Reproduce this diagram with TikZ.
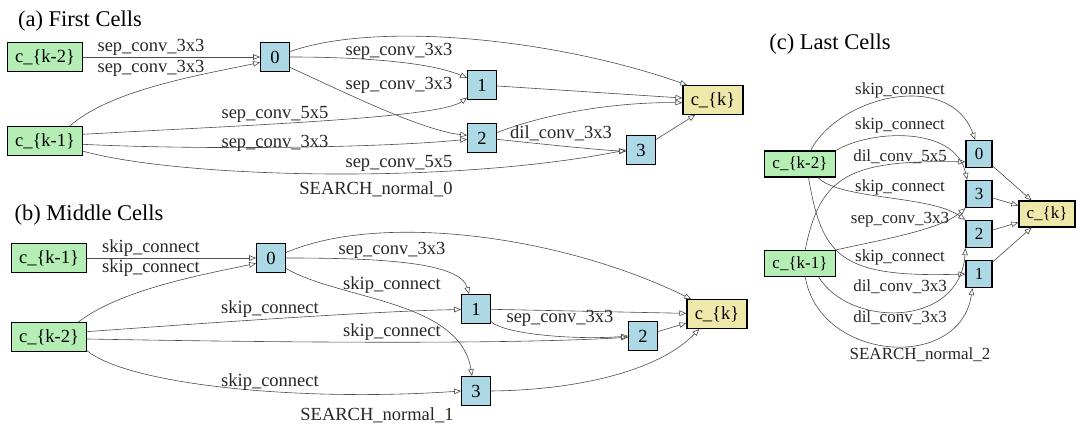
\documentclass[tikz,border=0pt]{standalone}
\usepackage{fontspec}
\setmainfont{Liberation Serif}
\usetikzlibrary{arrows.meta}
\definecolor{seagreen}{HTML}{B4EEB4}
\definecolor{nodeblue}{HTML}{ADD8E6}
\definecolor{golden}{HTML}{EEE8AA}
\newcommand{\lblfont}{\fontsize{18.5}{20}\selectfont}
\newcommand{\clblfont}{\fontsize{17}{18}\selectfont}
\begin{document}
\begin{tikzpicture}[x=1pt,y=-1pt,
    op/.style={draw=black!70,line width=0.6pt,-{Triangle[open,length=7pt,width=5.5pt]}},
    lbl/.style={text=black!85,inner sep=0pt,font=\lblfont},
    clbl/.style={text=black!85,inner sep=0pt,font=\clblfont},
    title/.style={inner sep=0pt,font=\fontsize{22.5}{24}\selectfont},
    box/.style={draw,line width=1.2pt,inner sep=0pt,font=\lblfont},
    inp/.style={box,fill=seagreen,minimum width=75pt,minimum height=28.5pt},
    mid/.style={box,fill=nodeblue,minimum width=28.5pt,minimum height=28.5pt},
    outp/.style={box,fill=golden,minimum width=60pt,minimum height=28.5pt},
    cinp/.style={inp,font=\clblfont,minimum width=71pt,minimum height=26pt},
    cmid/.style={mid,font=\clblfont,minimum width=26pt,minimum height=27pt},
    cout/.style={outp,font=\clblfont,minimum width=56pt,minimum height=26pt}]
\useasboundingbox (0,0) rectangle (1080,435);

\node[title](ta)at(80,21){(a) First Cells};
\node[inp](ak2)at(45,57){c\_\{k-2\}};
\node[inp](ak1)at(45,141){c\_\{k-1\}};
\node[mid](a0)at(275,57){0};
\node[mid](a1)at(482,85){1};
\node[mid](a2)at(482,138){2};
\node[mid](a3)at(641,150){3};
\node[outp](ak)at(713,100){c\_\{k\}};
\draw[op](ak2)--(a0);
\draw[op](ak1.31) .. controls (110,90) and (200,75) .. (a0.200);
\draw[op](a0.20) .. controls (380,20) and (560,40) .. (ak.150);
\draw[op](a0.east) .. controls (360,57) and (430,62) .. (a1.155);
\draw[op](a0.-35) .. controls (340,90) and (420,130) .. (a2.170);
\draw[op](ak1.10) .. controls (250,125) and (440,118) .. (a1.220);
\draw[op](ak1.-5) .. controls (200,150) and (380,148) .. (a2.185);
\draw[op](ak1.-15) .. controls (180,178) and (450,185) .. (a3.west);
\draw[op](a1)--(ak);
\draw[op](a2.20) .. controls (550,112) and (620,102) .. (ak.185);
\draw[op](a2.-5) .. controls (560,146) and (600,150) .. (a3.185);
\draw[op](a3.35)--(ak.220);
\node[lbl](la1)at(151,47){sep\_conv\_3x3};
\node[lbl](la2)at(151,68){sep\_conv\_3x3};
\node[lbl](la3)at(399,51){sep\_conv\_3x3};
\node[lbl](la4)at(399,85){sep\_conv\_3x3};
\node[lbl](la5)at(275,114){sep\_conv\_5x5};
\node[lbl](la6)at(275,143){sep\_conv\_3x3};
\node[lbl](la7)at(399,163){sep\_conv\_5x5};
\node[lbl](la8)at(561,133){dil\_conv\_3x3};
\node[lbl](sa)at(376,189){SEARCH\_normal\_0};

\node[title](tb)at(89,215){(b) Middle Cells};
\node[inp](bk1)at(49,258){c\_\{k-1\}};
\node[inp](bk2)at(49,337){c\_\{k-2\}};
\node[mid](b0)at(271,258){0};
\node[mid](b1)at(476,309){1};
\node[mid](b2)at(643,336){2};
\node[mid](b3)at(476,391){3};
\node[outp](bk)at(717,314){c\_\{k\}};
\draw[op](bk1)--(b0);
\draw[op](bk2.27) .. controls (120,290) and (200,275) .. (b0.200);
\draw[op](b0.20) .. controls (380,212) and (560,235) .. (bk.150);
\draw[op](b0.east) .. controls (380,258) and (460,262) .. (b1.115);
\draw[op](b0.-35) .. controls (340,300) and (460,300) .. (b3.105);
\draw[op](bk2.8) .. controls (220,322) and (380,311) .. (b1.182);
\draw[op](bk2.-3) .. controls (250,342) and (500,345) .. (b2.185);
\draw[op](bk2.-20) .. controls (130,385) and (300,402) .. (b3.west);
\draw[op](b1)--(bk);
\draw[op](b1.-40) .. controls (505,335) and (580,340) .. (b2.west);
\draw[op](b2)--(bk);
\draw[op](b3.east) .. controls (580,390) and (660,370) .. (bk.-140);
\node[lbl](lb1)at(151,248){skip\_connect};
\node[lbl](lb2)at(151,268){skip\_connect};
\node[lbl](lb3)at(392,250){sep\_conv\_3x3};
\node[lbl](lb4)at(392,285){skip\_connect};
\node[lbl](lb5)at(270,309){skip\_connect};
\node[lbl](lb6)at(392,332){skip\_connect};
\node[lbl](lb7)at(270,382){skip\_connect};
\node[lbl](lb8)at(560,318){sep\_conv\_3x3};
\node[lbl](sb)at(377,415){SEARCH\_normal\_1};

\node[title](tc)at(830,44){(c) Last Cells};
\node[cinp](ck2)at(800,164){c\_\{k-2\}};
\node[cinp](ck1)at(800,263.5){c\_\{k-1\}};
\node[cmid](c0)at(979,154){0};
\node[cmid](c3)at(979,194){3};
\node[cmid](c2)at(979,234){2};
\node[cmid](c1)at(979,274){1};
\node[cout](ck)at(1047,214){c\_\{k\}};
\draw[op](ck2.52) .. controls (840,95) and (950,70) .. (c0.105);
\draw[op](ck2.north east) .. controls (870,130) and (955,125) .. (c3.130);
\draw[op](ck1.69) .. controls (820,175) and (850,160) .. (c0.210);
\draw[op](ck2.-37) .. controls (840,200) and (930,195) .. (c2.north west);
\draw[op](ck1.north east) .. controls (880,240) and (940,230) .. (c3.south west);
\draw[op](ck2.-58) .. controls (822,255) and (838,278) .. (c1.west);
\draw[op](ck1.-36) .. controls (850,328) and (960,328) .. (c2.south west);
\draw[op](ck1.-69) .. controls (820,362) and (960,372) .. (c1.-115);
\draw[op](c0)--(ck);
\draw[op](c3)--(ck);
\draw[op](c2)--(ck);
\draw[op](c1)--(ck);
\node[clbl](lc1)at(900,90){skip\_connect};
\node[clbl](lc2)at(900,125){skip\_connect};
\node[clbl](lc3)at(900,157){dil\_conv\_5x5};
\node[clbl](lc4)at(900,187){skip\_connect};
\node[clbl](lc5)at(900,220){sep\_conv\_3x3};
\node[clbl](lc6)at(900,257){skip\_connect};
\node[clbl](lc7)at(900,287){dil\_conv\_3x3};
\node[clbl](lc8)at(900,318){dil\_conv\_3x3};
\node[clbl](sc)at(920,355){SEARCH\_normal\_2};
\end{tikzpicture}
\end{document}
